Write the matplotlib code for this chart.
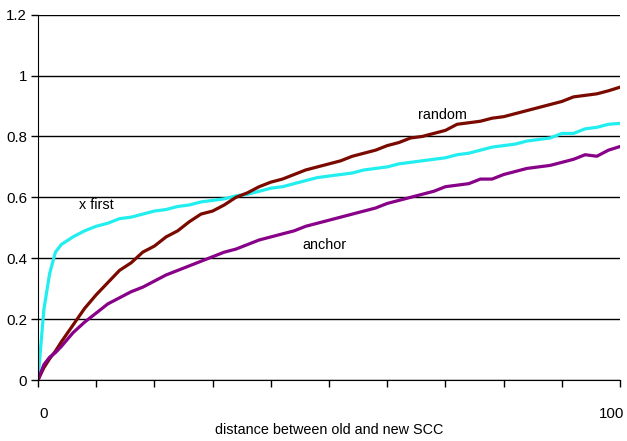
import matplotlib
matplotlib.use("Agg")
import matplotlib.pyplot as plt
import matplotlib.transforms as mtransforms

plt.rcParams['font.family'] = ['Liberation Sans', 'DejaVu Sans']

# distance between old and new SCC
x = [0, 1, 2, 3, 4, 6, 8, 10, 12, 14, 16, 18, 20, 22, 24, 26, 28, 30, 32, 34,
     36, 38, 40, 42, 44, 46, 48, 50, 52, 54, 56, 58, 60, 62, 64, 66, 68, 70,
     72, 74, 76, 78, 80, 82, 84, 86, 88, 90, 92, 94, 96, 98, 100]

x_first = [0, 0.23, 0.35, 0.42, 0.445, 0.47, 0.49, 0.505, 0.515, 0.53, 0.535,
           0.545, 0.555, 0.56, 0.57, 0.575, 0.585, 0.59, 0.595, 0.605, 0.61,
           0.62, 0.63, 0.635, 0.645, 0.655, 0.665, 0.67, 0.675, 0.68, 0.69,
           0.695, 0.70, 0.71, 0.715, 0.72, 0.725, 0.73, 0.74, 0.745, 0.755,
           0.765, 0.77, 0.775, 0.785, 0.79, 0.795, 0.81, 0.81, 0.825, 0.83,
           0.84, 0.843]

random_ = [0, 0.04, 0.07, 0.095, 0.125, 0.18, 0.235, 0.28, 0.32, 0.36, 0.385,
           0.42, 0.44, 0.47, 0.49, 0.52, 0.545, 0.555, 0.575, 0.60, 0.615,
           0.635, 0.65, 0.66, 0.675, 0.69, 0.70, 0.71, 0.72, 0.735, 0.745,
           0.755, 0.77, 0.78, 0.795, 0.80, 0.81, 0.82, 0.84, 0.845, 0.85,
           0.86, 0.865, 0.875, 0.885, 0.895, 0.905, 0.915, 0.93, 0.935, 0.94,
           0.95, 0.962]

anchor = [0, 0.05, 0.075, 0.09, 0.11, 0.155, 0.19, 0.22, 0.25, 0.27, 0.29,
          0.305, 0.325, 0.345, 0.36, 0.375, 0.39, 0.405, 0.42, 0.43, 0.445,
          0.46, 0.47, 0.48, 0.49, 0.505, 0.515, 0.525, 0.535, 0.545, 0.555,
          0.565, 0.58, 0.59, 0.60, 0.61, 0.62, 0.635, 0.64, 0.645, 0.66,
          0.66, 0.675, 0.685, 0.695, 0.70, 0.705, 0.715, 0.725, 0.74, 0.735,
          0.755, 0.767]

fig = plt.figure(figsize=(6.27, 4.41), dpi=100)
ax = fig.add_axes([0.0606, 0.1383, 0.9284, 0.8284])

ax.plot(x, x_first, color='#22EEF0', lw=2.3, solid_joinstyle='round')
ax.plot(x, random_, color='#7A0A00', lw=2.3, solid_joinstyle='round')
ax.plot(x, anchor, color='#880088', lw=2.3, solid_joinstyle='round')

ax.text(7, 0.574, 'x first', fontsize=10.4, va='center')
ax.text(65.3, 0.869, 'random', fontsize=10.4, va='center')
ax.text(45.4, 0.443, 'anchor', fontsize=10.4, va='center')

ax.set_xlim(0, 100)
ax.set_ylim(0, 1.2)
ax.set_yticks([0, 0.2, 0.4, 0.6, 0.8, 1, 1.2])
ax.set_yticklabels(['0', '0.2', '0.4', '0.6', '0.8', '1', '1.2'], fontsize=10.8)
ax.set_xticks(range(0, 101, 10))
ax.set_xticklabels([])
ax.tick_params(axis='both', direction='out', length=5, width=1, color='black')
ax.tick_params(axis='y', pad=3)

ax.yaxis.grid(True, color='black', lw=1)
ax.set_axisbelow(True)
for s in ['top', 'right']:
    ax.spines[s].set_visible(False)
ax.spines['left'].set_color('black')
ax.spines['bottom'].set_color('black')

trans = mtransforms.blended_transform_factory(ax.transData, ax.transAxes)
ax.text(0.9, -0.092, '0', transform=trans, fontsize=10.8, ha='center', va='center')
ax.text(98.6, -0.092, '100', transform=trans, fontsize=10.8, ha='center', va='center')
ax.text(50, -0.138, 'distance between old and new SCC', transform=trans,
        fontsize=10.4, ha='center', va='center')

fig.savefig('out.png', dpi=100)
